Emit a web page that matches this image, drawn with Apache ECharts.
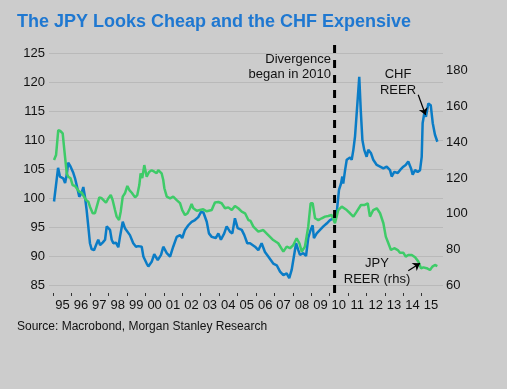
<!DOCTYPE html>
<html>
<head>
<meta charset="utf-8">
<script src="https://cdn.jsdelivr.net/npm/echarts@6/dist/echarts.min.js"></script>
<style>
html,body{margin:0;padding:0;background:#cccccc;}
#c{width:507px;height:389px;}
</style>
</head>
<body>
<div id="c"></div>
<script>
// ---- Data (decimal years, values) ----
var tickLabels = ['95','96','97','98','99','00','01','02','03','04','05','06','07','08','09','10','11','12','13','14','15'];
var firstYear = 1995;
var divergenceDate = 2010.27;

// CHF REER (left axis)
var chfDates = [1995.04,1995.26,1995.36,1995.54,1995.64,1995.73,1995.81,1995.94,1996.09,1996.18,1996.27,1996.41,1996.54,1996.63,1996.72,1996.81,1996.90,1996.99,1997.08,1997.21,1997.36,1997.44,1997.54,1997.68,1997.81,1997.90,1997.99,1998.08,1998.17,1998.26,1998.40,1998.53,1998.62,1998.77,1998.89,1998.98,1999.16,1999.34,1999.49,1999.61,1999.80,1999.89,2000.07,2000.16,2000.34,2000.48,2000.67,2000.85,2000.97,2001.16,2001.34,2001.51,2001.70,2001.88,2002.00,2002.15,2002.33,2002.51,2002.69,2002.87,2003.02,2003.15,2003.33,2003.45,2003.60,2003.82,2003.96,2004.10,2004.28,2004.41,2004.59,2004.72,2004.86,2005.01,2005.23,2005.37,2005.53,2005.68,2005.77,2005.95,2006.13,2006.31,2006.49,2006.67,2006.94,2007.13,2007.31,2007.49,2007.67,2007.81,2007.94,2008.03,2008.18,2008.30,2008.39,2008.57,2008.72,2008.84,2008.97,2009.08,2009.15,2009.30,2009.48,2009.66,2009.84,2010.02,2010.20,2010.39,2010.51,2010.62,2010.69,2010.74,2010.84,2010.93,2011.02,2011.11,2011.20,2011.29,2011.38,2011.47,2011.56,2011.61,2011.69,2011.78,2011.88,2012.01,2012.10,2012.25,2012.37,2012.56,2012.74,2012.92,2013.10,2013.28,2013.37,2013.51,2013.70,2013.82,2014.00,2014.13,2014.27,2014.42,2014.51,2014.64,2014.78,2014.91,2015.00,2015.05,2015.14,2015.23,2015.36,2015.49,2015.60,2015.72,2015.85];
var chfValues = [99.4,105.2,103.7,103.4,102.6,104.0,106.1,105.4,104.3,103.4,102.2,100.2,100.9,101.9,100.2,97.9,95.1,92.2,91.2,91.0,92.2,92.8,91.9,92.3,92.8,95.1,95.2,94.5,92.8,92.2,92.3,91.5,93.3,95.9,94.8,95.1,93.6,92.2,91.6,91.7,91.6,89.9,88.7,88.2,89.0,90.3,89.3,90.2,91.6,90.5,89.9,91.6,93.3,93.6,93.1,94.5,95.3,95.9,96.2,96.7,97.6,97.5,95.9,93.9,93.3,93.1,93.9,92.8,93.9,95.1,94.2,93.9,96.5,94.8,94.5,93.6,92.2,92.2,92.2,91.6,91.0,92.2,90.7,89.9,88.7,88.4,87.3,86.7,87.0,86.2,87.6,89.3,92.2,91.0,90.2,90.5,90.0,93.1,94.5,95.3,93.1,93.9,94.5,95.1,95.6,96.2,96.5,97.6,101.4,102.5,103.7,102.5,104.8,106.6,106.3,107.0,106.6,108.3,110.6,114.6,118.6,120.9,115.2,110.0,108.3,107.1,108.3,107.7,106.6,105.7,105.4,105.1,105.4,104.8,103.7,104.5,104.3,104.8,105.4,105.7,106.3,105.1,104.0,104.8,104.5,104.8,107.1,112.9,114.6,114.0,116.3,116.0,112.9,110.9,109.7];

// JPY REER (right axis)
var jpyDates = [1995.04,1995.15,1995.27,1995.38,1995.51,1995.60,1995.73,1995.81,1995.94,1996.05,1996.18,1996.27,1996.41,1996.54,1996.63,1996.78,1996.90,1996.99,1997.14,1997.26,1997.36,1997.50,1997.63,1997.71,1997.86,1997.99,1998.12,1998.22,1998.35,1998.44,1998.57,1998.66,1998.77,1998.89,1999.02,1999.13,1999.26,1999.44,1999.56,1999.67,1999.74,1999.83,1999.94,2000.07,2000.20,2000.34,2000.48,2000.61,2000.70,2000.79,2000.88,2000.97,2001.03,2001.16,2001.34,2001.51,2001.70,2001.88,2002.00,2002.15,2002.29,2002.42,2002.51,2002.60,2002.79,2002.96,2003.14,2003.33,2003.41,2003.60,2003.69,2003.78,2003.96,2004.14,2004.32,2004.50,2004.69,2004.86,2005.04,2005.23,2005.41,2005.59,2005.71,2005.86,2006.13,2006.40,2006.67,2006.94,2007.21,2007.49,2007.67,2007.85,2008.03,2008.21,2008.36,2008.49,2008.66,2008.84,2008.97,2009.08,2009.21,2009.39,2009.57,2009.75,2009.93,2010.11,2010.29,2010.47,2010.66,2010.93,2011.11,2011.29,2011.47,2011.70,2011.88,2012.07,2012.19,2012.37,2012.56,2012.74,2012.92,2013.05,2013.19,2013.33,2013.51,2013.70,2013.82,2014.00,2014.13,2014.27,2014.46,2014.64,2014.82,2014.96,2015.09,2015.27,2015.45,2015.58,2015.72,2015.85];
var jpyValues = [130.0,132.8,146.8,146.3,145.0,135.6,122.6,120.7,119.8,116.0,115.5,114.2,112.3,111.7,112.3,107.6,106.7,103.9,100.2,100.2,103.9,109.1,108.6,107.6,106.1,108.6,110.4,107.6,102.0,98.3,96.4,101.1,109.5,111.4,115.5,113.2,111.7,109.1,110.4,116.0,122.6,119.9,127.2,120.7,123.3,124.3,123.5,122.6,124.4,123.3,122.6,118.8,114.2,109.5,108.6,109.5,107.6,105.9,102.0,99.2,100.2,103.0,105.4,103.0,101.6,102.0,102.4,101.3,100.5,102.0,104.3,106.3,106.5,105.8,103.0,103.5,102.0,104.3,103.0,101.1,100.2,96.4,95.9,92.7,89.9,90.8,88.0,85.2,83.4,78.7,81.5,80.6,82.4,86.2,83.4,78.7,81.5,92.7,105.8,105.8,97.4,96.4,97.4,98.3,98.7,99.2,94.6,102.0,103.9,102.0,100.2,98.3,101.1,104.8,104.8,105.8,98.3,102.0,103.0,100.2,94.6,87.1,83.4,79.6,80.6,79.6,78.1,78.1,75.9,76.8,76.8,75.5,73.1,69.4,69.9,69.4,68.4,70.3,71.2,70.6];

// Annotation arrows (data coordinates)
var chfArrow = [[2014.81, 117.8], [2015.21, 114.3]];
var jpyArrow = [[2014.27, 68.0], [2014.91, 72.2]];

function zip(a, b) { return a.map(function (d, i) { return [d, b[i]]; }); }
var yearTicks = tickLabels.map(function (l, i) { return firstYear + i; });
var labelPos = tickLabels.map(function (l, i) { return firstYear + i + 0.5; });

var FONT = 'Liberation Sans, Arial, sans-serif';
var chart = echarts.init(document.getElementById('c'), null, {renderer: 'canvas'});
var option = {
  backgroundColor: '#cccccc',
  animation: false,
  grid: { left: 49, right: 64, top: 53, bottom: 104, containLabel: false },
  xAxis: {
    type: 'value', min: 1994.767, max: 2016.156,
    offset: 8,
    splitLine: { show: false },
    axisLine: { show: false },
    axisTick: { show: true, customValues: yearTicks, length: 3, lineStyle: { color: '#333', width: 1 } },
    axisLabel: {
      customValues: labelPos, margin: 6,
      color: '#111', fontSize: 13, fontFamily: FONT,
      formatter: function (v) { return tickLabels[Math.floor(v) - firstYear]; }
    }
  },
  yAxis: [
    {
      type: 'value', min: 85, max: 125, interval: 5,
      axisLine: { show: false }, axisTick: { show: false },
      splitLine: { show: true, lineStyle: { color: '#b9b9b9', width: 1 } },
      axisLabel: { color: '#111', fontSize: 13, fontFamily: FONT, margin: 4 }
    },
    {
      type: 'value', min: 60, max: 190, interval: 20, position: 'right',
      axisLine: { show: false }, axisTick: { show: false },
      splitLine: { show: false },
      axisLabel: { color: '#111', fontSize: 13, fontFamily: FONT, margin: 3, showMaxLabel: false,
        formatter: function (v) { return v > 180 ? '' : String(v); } }
    }
  ],
  series: [
    {
      name: 'CHF REER', type: 'line', yAxisIndex: 0, data: zip(chfDates, chfValues),
      showSymbol: false, symbol: 'none',
      lineStyle: { color: '#0a7cc6', width: 2.5 },
      markLine: {
        silent: true, symbol: ['none', 'arrow'], symbolSize: 7, label: { show: false },
        lineStyle: { color: '#000', width: 1.2, type: 'solid' },
        data: [[{ coord: chfArrow[0] }, { coord: chfArrow[1] }]]
      }
    },
    {
      name: 'JPY REER (rhs)', type: 'line', yAxisIndex: 1, data: zip(jpyDates, jpyValues),
      showSymbol: false, symbol: 'none',
      lineStyle: { color: '#3ecb68', width: 2.5 },
      markLine: {
        silent: true, symbol: ['none', 'arrow'], symbolSize: 7, label: { show: false },
        lineStyle: { color: '#000', width: 1.2, type: 'solid' },
        data: [[{ coord: jpyArrow[0] }, { coord: jpyArrow[1] }]]
      }
    }
  ]
};
chart.setOption(option);

var dx = chart.convertToPixel({ xAxisIndex: 0 }, divergenceDate);
var yTop = chart.convertToPixel({ yAxisIndex: 0 }, 125) - 8;
var yBot = chart.convertToPixel({ yAxisIndex: 0 }, 85) + 8;

chart.setOption({
  graphic: [
    { type: 'text', left: 17, top: 13, style: { text: 'The JPY Looks Cheap and the CHF Expensive', font: 'bold 18px ' + FONT, fill: '#1f78d1' } },
    { type: 'line', shape: { x1: dx, y1: yTop, x2: dx, y2: yBot }, style: { stroke: '#000', lineWidth: 3, lineDash: [8, 7] }, z: 10 },
    { type: 'text', x: 331, y: 67, style: { text: 'Divergence\nbegan in 2010', font: '13px ' + FONT, fill: '#111', align: 'right', verticalAlign: 'middle', lineHeight: 14.5 } },
    { type: 'text', x: 398, y: 82, style: { text: 'CHF\nREER', font: '13px ' + FONT, fill: '#111', align: 'center', verticalAlign: 'middle', lineHeight: 16 } },
    { type: 'text', x: 377, y: 271, style: { text: 'JPY\nREER (rhs)', font: '13px ' + FONT, fill: '#111', align: 'center', verticalAlign: 'middle', lineHeight: 16 } },
    { type: 'text', left: 17, top: 321, style: { text: 'Source: Macrobond, Morgan Stanley Research', font: '12px ' + FONT, fill: '#111' } }
  ]
});
</script>
</body>
</html>
